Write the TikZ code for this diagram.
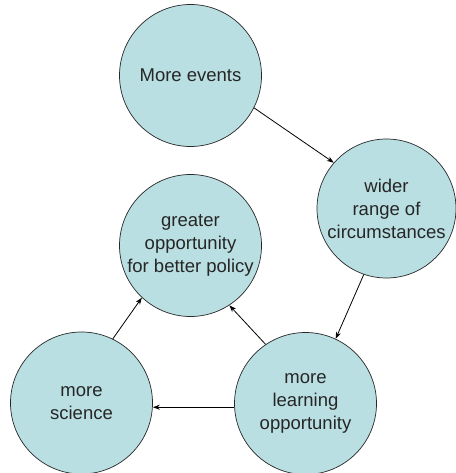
\documentclass[tikz,border=0pt]{standalone}
\usepackage{fontspec}
\setmainfont{Liberation Sans}
\usetikzlibrary{arrows.meta}
\definecolor{bubble}{RGB}{185,223,226}
\definecolor{rim}{RGB}{40,40,40}
\begin{document}
\begin{tikzpicture}[x=1pt,y=-1pt,
  bubblenode/.style={circle,draw=rim,line width=0.7pt,fill=bubble,minimum size=142pt,inner sep=0pt,
    align=center,font=\fontsize{18.5}{23}\selectfont,text=black!85},
  link/.style={-{Stealth[length=7pt,width=5pt]},line width=0.8pt,draw=black}]
\useasboundingbox (0,0) rectangle (455,473);
\node[bubblenode] (events) at (190.5,75.5) {More events};
\node[bubblenode,minimum size=139pt] (wider) at (386.5,208.5) {wider\\range of\\circumstances};
\node[bubblenode] (greater) at (190.5,245.5) {greater\\opportunity\\for better policy};
\node[bubblenode] (sci) at (81.5,403) {more\\science};
\node[bubblenode] (learn) at (305.5,403.5) {more\\learning\\opportunity};
\draw[link] (events.333) -- (wider.139);
\draw[link] (wider.251) -- (learn.65);
\draw[link] (learn.124) -- (greater.303);
\draw[link] (sci.64) -- (greater.227);
\draw[link] (learn.183) -- (learn.183 -| sci.east);
\end{tikzpicture}
\end{document}
